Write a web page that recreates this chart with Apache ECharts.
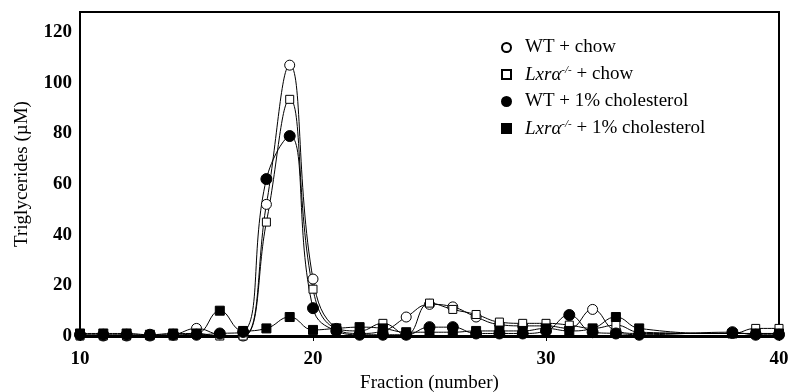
<!DOCTYPE html>
<html>
<head>
<meta charset="utf-8">
<script src="https://cdn.jsdelivr.net/npm/echarts@6/dist/echarts.min.js"></script>
<style>
  html, body { margin: 0; padding: 0; background: #fff; }
  #chart { width: 788px; height: 392px; }
</style>
</head>
<body>
<div id="chart"></div>
<script>
// fractions 35-37 were not measured
const fractions = [10, 11, 12, 13, 14, 15, 16, 17, 18, 19, 20, 21, 22, 23, 24, 25, 26, 27, 28, 29, 30, 31, 32, 33, 34, 38, 39, 40];
const wtChow   = [0.5, 0, 0, 0, 0.5, 3, 0.5, 0, 52, 107, 22.5, 3, 1, 2, 7.5, 12.5, 11.5, 7.5, 4.5, 4, 4, 3, 10.5, 2, 1, 1, 1, 1];
const lxrChow  = [0, 0, 0, 0, 0, 1, 0, 0, 45, 93.5, 18.5, 3, 2, 5, 0.5, 13, 10.5, 8.5, 5.5, 5, 5, 4.3, 3, 4.3, 1.5, 1, 3, 3];
const wtChol   = [0.5, 0.5, 0.5, 0.5, 0.5, 0.5, 1, 1.6, 62, 79, 11, 2, 0.5, 0.5, 0.5, 3.5, 3.5, 1, 1, 1, 2, 8.3, 1.5, 1, 0.5, 1.5, 0.5, 0.5];
const lxrChol  = [1, 1, 1, 0.5, 1, 1, 10, 2, 3, 7.5, 2.4, 3, 3.5, 3, 1.5, 1.5, 1.5, 2, 2, 2, 3, 2, 3, 7.5, 3, 1, 1, 1];

const xTicks = [10, 20, 30, 40];
const yTicks = [0, 20, 40, 60, 80, 100, 120];

const names = ['WT + chow', 'Lxra + chow', 'WT + 1% cholesterol', 'Lxra + 1% cholesterol'];
const FONT = '"Liberation Serif", "DejaVu Serif", serif';

const pairs = vals => fractions.map((f, i) => [f, vals[i]]);

function makeSeries(name, vals, symbol, size, fill) {
  return {
    name: name,
    type: 'line',
    smooth: 0.45,
    clip: false,
    symbol: symbol,
    symbolSize: size,
    showAllSymbol: true,
    lineStyle: { color: '#000', width: 1 },
    itemStyle: { color: fill, borderColor: '#000', borderWidth: 1 },
    emphasis: { disabled: true },
    data: pairs(vals)
  };
}

const chart = echarts.init(document.getElementById('chart'));

chart.setOption({
  animation: false,
  backgroundColor: '#fff',
  grid: {
    left: 80, right: 9, top: 12, bottom: 56,
    outerBoundsMode: 'none',
    containLabel: false,
    show: true,
    borderColor: '#000',
    borderWidth: 2
  },
  legend: {
    orient: 'vertical',
    left: 496,
    top: 33,
    itemWidth: 9,
    itemHeight: 9,
    itemGap: 8,
    selectedMode: false,
    data: [
      { name: names[0], icon: 'circle' },
      { name: names[1], icon: 'rect' },
      { name: names[2], icon: 'circle' },
      { name: names[3], icon: 'rect' }
    ],
    formatter: function (n) {
      if (n.indexOf('Lxra') === 0) {
        return '{i|Lxrα}{s|-/-}{n|' + n.slice(4) + '}';
      }
      return '{n|' + n + '}';
    },
    textStyle: {
      fontFamily: FONT,
      fontSize: 19,
      color: '#000',
      padding: [0, 0, 0, 9],
      rich: {
        n: { fontFamily: FONT, fontSize: 19, color: '#000', lineHeight: 20 },
        i: { fontFamily: FONT, fontSize: 19, fontStyle: 'italic', color: '#000', lineHeight: 20 },
        s: { fontFamily: FONT, fontSize: 11, fontStyle: 'italic', color: '#000', lineHeight: 20, padding: [0, 0, 8, 0] }
      }
    }
  },
  xAxis: {
    type: 'value',
    min: 10,
    max: 40,
    interval: 10,
    name: 'Fraction (number)',
    nameLocation: 'middle',
    nameGap: 37,
    nameTextStyle: { fontFamily: FONT, fontSize: 19, color: '#000' },
    axisLine: { onZero: true, lineStyle: { color: '#000', width: 3 } },
    axisTick: { show: true, length: 5, lineStyle: { color: '#000', width: 1 } },
    axisLabel: {
      margin: 14,
      fontFamily: FONT,
      fontSize: 19,
      fontWeight: 'bold',
      color: '#000',
      formatter: v => (xTicks.indexOf(v) >= 0 ? String(v) : '')
    },
    splitLine: { show: false }
  },
  yAxis: {
    type: 'value',
    min: 0,
    max: 128,
    interval: 20,
    name: 'Triglycerides (µM)',
    nameLocation: 'middle',
    nameGap: 48,
    nameTextStyle: { fontFamily: FONT, fontSize: 19, color: '#000' },
    axisLine: { show: true, lineStyle: { color: '#000', width: 2 } },
    axisTick: { show: false },
    axisLabel: {
      margin: 8,
      showMaxLabel: false,
      fontFamily: FONT,
      fontSize: 19,
      fontWeight: 'bold',
      color: '#000',
      formatter: v => (yTicks.indexOf(v) >= 0 ? String(v) : '')
    },
    splitLine: { show: false }
  },
  series: [
    makeSeries(names[0], wtChow, 'circle', 10, '#fff'),
    makeSeries(names[1], lxrChow, 'rect', 8, '#fff'),
    makeSeries(names[2], wtChol, 'circle', 11, '#000'),
    makeSeries(names[3], lxrChol, 'rect', 9, '#000')
  ]
});
</script>
</body>
</html>
